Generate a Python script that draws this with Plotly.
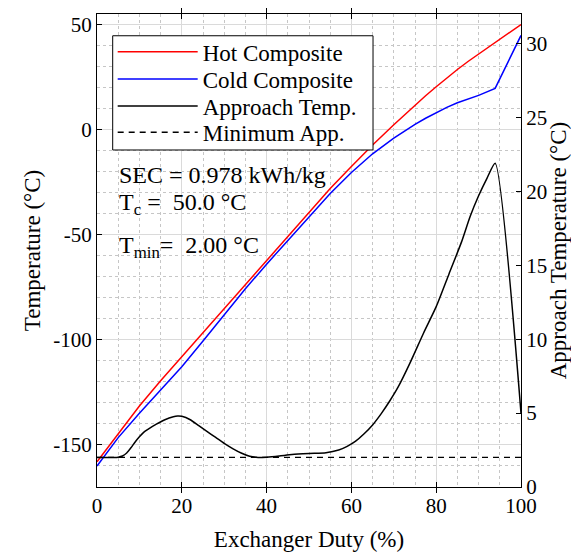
import plotly.graph_objects as go

# ---- data ----
duty = [0, 5, 10, 15, 20, 25, 30, 35, 40, 45, 50, 55, 60, 65, 70, 72.5, 75, 77.5, 80,
        82.5, 85, 87.5, 90, 93.9, 100]
hot_composite = [-158, -144.5, -131.5, -119.5, -108, -96.5, -85, -73.5, -62, -50.5, -39, -28,
                 -17.5, -7.3, 2.3, 7.0, 11.6, 16.1, 20.4, 24.6, 28.6, 32.4, 36, 41.5, 50]
cold_composite = [-160, -146.5, -134.9, -123.9, -112.8, -100.5, -88, -75.7, -64, -52.7, -41.3,
                  -30.4, -20.4, -11.5, -4.0, -0.6, 2.5, 5.4, 8.2, 10.6, 12.75, 14.5, 16.3,
                  19.6, 44.8]

duty_app = [0, 2, 4, 5, 6, 7, 8, 9, 10, 11, 12, 14, 16, 18, 19, 20, 22, 24, 26, 28, 30, 32, 34,
            36, 38, 40, 43, 46, 50, 54, 57, 59, 61, 63, 65, 67, 69, 71, 74, 77, 80, 83, 86, 88,
            90, 92, 93.9, 100]
approach_temp = [2.0, 2.0, 2.0, 2.02, 2.1, 2.3, 2.65, 3.05, 3.4, 3.7, 3.9, 4.25, 4.55, 4.75, 4.8,
                 4.78, 4.55, 4.15, 3.75, 3.35, 2.95, 2.6, 2.3, 2.08, 2.0, 2.02, 2.1, 2.2, 2.27,
                 2.32, 2.5, 2.75, 3.1, 3.6, 4.2, 4.95, 5.8, 6.75, 8.5, 10.4, 12.2, 14.4, 16.6,
                 18.3, 19.7, 20.9, 21.9, 5.0]

min_duty = [0, 100]
min_approach = [2.0, 2.0]

x_ticks = [0, 20, 40, 60, 80, 100]
left_ticks = [-150, -100, -50, 0, 50]
left_tick_text = ["-150", "-100", "-50", "0", "50"]
right_ticks = [0, 5, 10, 15, 20, 25, 30]

series_names = ["Hot Composite", "Cold Composite", "Approach Temp.", "Minimum App."]

sec_text = "SEC = 0.978 kWh/kg"
tc_text = "T<sub>c</sub> =\u00a0 50.0 °C"
tmin_text = "T<sub>min</sub>=\u00a0 2.00 °C"

FONT = "Liberation Serif"
TICKFONT = dict(family=FONT, size=21, color="black")
TITLEFONT = dict(family=FONT, size=23, color="black")

fig = go.Figure()
fig.add_trace(go.Scatter(x=duty, y=hot_composite, mode="lines", name=series_names[0],
                         line=dict(color="#ff0000", width=1.5), legend="legend"))
fig.add_trace(go.Scatter(x=duty, y=cold_composite, mode="lines", name=series_names[1],
                         line=dict(color="#0000ff", width=1.5), legend="legend2"))
fig.add_trace(go.Scatter(x=duty_app, y=approach_temp, mode="lines", name=series_names[2],
                         line=dict(color="black", width=1.5, shape="spline", smoothing=0.6),
                         yaxis="y2", legend="legend3"))
fig.add_trace(go.Scatter(x=min_duty, y=min_approach, mode="lines", name=series_names[3],
                         line=dict(color="black", width=1.3, dash="6px,5px"), yaxis="y2",
                         legend="legend4"))

def leg(yc):
    return dict(x=0.037, y=yc, xanchor="left", yanchor="middle",
                bgcolor="rgba(0,0,0,0)", borderwidth=0,
                font=dict(family=FONT, size=23, color="black"), itemwidth=80)

fig.update_layout(
    width=571, height=552,
    margin=dict(l=97, r=50, t=14, b=65),
    paper_bgcolor="white", plot_bgcolor="white",
    font=dict(family=FONT, size=21, color="black"),
    xaxis=dict(range=[0, 100], tickvals=x_ticks, ticks="inside", ticklen=5, tickcolor="black",
               tickfont=TICKFONT,
               showline=True, linecolor="black", linewidth=1, mirror="allticks",
               showgrid=True, gridcolor="#dadada", gridwidth=1, zeroline=False, automargin=False,
               minor=dict(dtick=5, showgrid=True, gridcolor="#c6c6c6", griddash="dot", ticks=""),
               title=dict(text="Exchanger Duty (%)", font=TITLEFONT, standoff=16)),
    yaxis=dict(range=[-170, 55], tickvals=left_ticks, ticktext=left_tick_text,
               ticks="inside", ticklen=5, tickcolor="black", tickfont=TICKFONT,
               showline=True, linecolor="black", linewidth=1, mirror=False, automargin=False,
               showgrid=True, gridcolor="#dadada", gridwidth=1, zeroline=False,
               minor=dict(dtick=10, showgrid=True, gridcolor="#c6c6c6", griddash="dot", ticks=""),
               title=dict(text="Temperature (°C)", font=TITLEFONT, standoff=6)),
    yaxis2=dict(range=[0, 32], tickvals=right_ticks, ticks="inside", ticklen=5, tickcolor="black",
                tickfont=TICKFONT,
                overlaying="y", side="right", automargin=False,
                showline=True, linecolor="black", linewidth=1,
                showgrid=False, zeroline=False,
                title=dict(text="Approach Temperature (°C)", font=TITLEFONT, standoff=0)),
    legend=leg(0.9203),
    legend2=leg(0.8626),
    legend3=leg(0.8055),
    legend4=leg(0.7499),
    showlegend=True,
)

# legend frame
fig.add_shape(type="rect", xref="paper", yref="paper", x0=0.037, x1=0.651, y0=0.7125, y1=0.954,
              line=dict(color="black", width=1), fillcolor="white", layer="above")

fig.add_annotation(text=sec_text, xref="paper", yref="paper", x=0.048, y=0.66,
                   xanchor="left", yanchor="middle", showarrow=False,
                   font=dict(family=FONT, size=24, color="black"))
fig.add_annotation(text=tc_text, xref="paper", yref="paper", x=0.048, y=0.598,
                   xanchor="left", yanchor="middle", showarrow=False,
                   font=dict(family=FONT, size=24, color="black"))
fig.add_annotation(text=tmin_text, xref="paper", yref="paper", x=0.048, y=0.508,
                   xanchor="left", yanchor="middle", showarrow=False,
                   font=dict(family=FONT, size=24, color="black"))

fig.write_html("out.html")
